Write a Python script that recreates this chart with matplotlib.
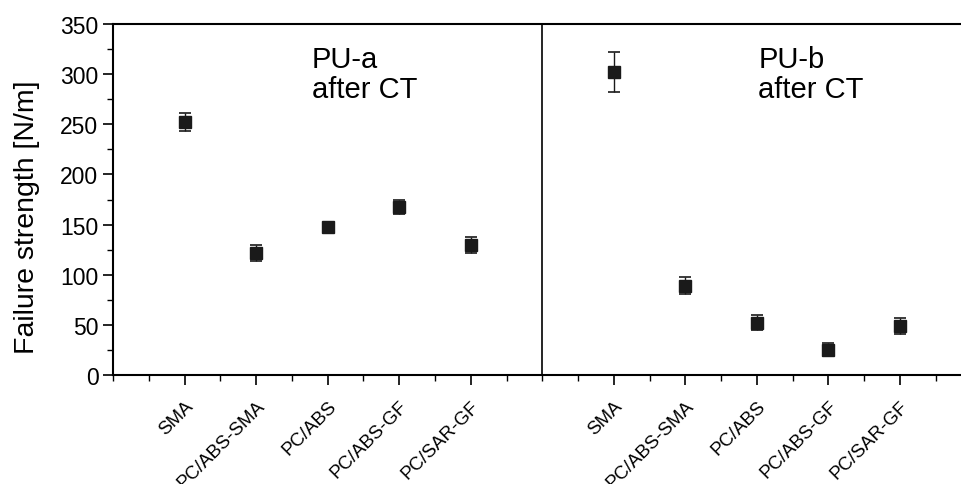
import numpy as np
import matplotlib.pyplot as plt
from matplotlib.ticker import MultipleLocator

plt.rcParams['font.family'] = ['Liberation Sans', 'DejaVu Sans']

materials = ["SMA", "PC/ABS-SMA", "PC/ABS", "PC/ABS-GF", "PC/SAR-GF"]
pu_a_strength = [252, 122, 148, 168, 130]
pu_a_err = [9, 8, 2, 7, 8]
pu_b_strength = [302, 89, 52, 25, 49]
pu_b_err = [20, 8.5, 7.5, 6.5, 8]
panel_labels = ["PU-a\nafter CT", "PU-b\nafter CT"]

W, H = 962, 485
fig = plt.figure(figsize=(W / 100, H / 100), dpi=100)
x0, x12 = 113, 971.6
ax = fig.add_axes([x0 / W, (H - 376) / H, (x12 - x0) / W, (376 - 25) / H])

pos_a = np.arange(1, 6)
pos_b = np.arange(7, 12)
for pos, vals, err in [(pos_a, pu_a_strength, pu_a_err), (pos_b, pu_b_strength, pu_b_err)]:
    ax.errorbar(pos, vals, yerr=err, fmt='s', color='#1a1a1a', ms=8, capsize=4,
                elinewidth=1, capthick=1.2)

ax.axvline(6, color='black', lw=1.2)
ax.text(2.78, 277, panel_labels[0], fontsize=21, va='baseline', ha='left', linespacing=1.1)
ax.text(9.02, 277, panel_labels[1], fontsize=21, va='baseline', ha='left', linespacing=1.1)

ax.set_xlim(0, 12)
ax.set_ylim(0, 350)
ax.set_xticks(list(pos_a) + list(pos_b))
ax.set_xticklabels(materials + materials, rotation=45, ha='right', va='top',
                   rotation_mode='anchor', fontsize=13.5)
ax.xaxis.set_minor_locator(MultipleLocator(0.5))
ax.yaxis.set_major_locator(MultipleLocator(50))
ax.yaxis.set_minor_locator(MultipleLocator(25))
ax.tick_params(axis='both', which='major', direction='out', length=7, width=1.2)
ax.tick_params(axis='both', which='minor', direction='out', length=4, width=1)
ax.tick_params(axis='y', labelsize=16.5)
ax.tick_params(axis='x', pad=9)
ax.set_ylabel("Failure strength [N/m]", fontsize=20.5)
ax.yaxis.set_label_coords(-0.085, 0.453)
for s in ['left', 'bottom', 'top']:
    ax.spines[s].set_linewidth(1.5)
ax.spines['right'].set_visible(False)

fig.savefig("out.png", dpi=100)
